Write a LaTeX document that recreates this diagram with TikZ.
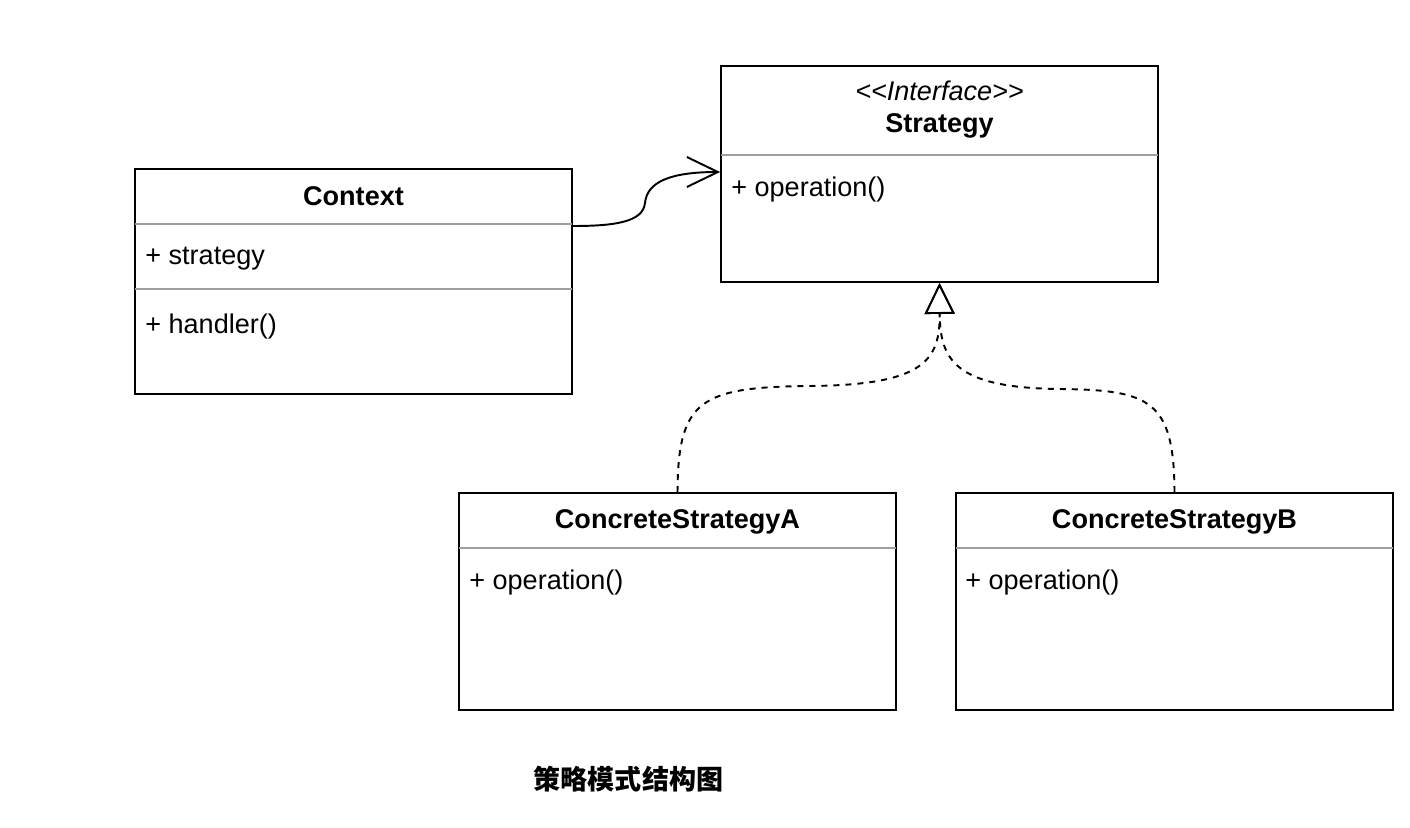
\documentclass[tikz,border=0pt]{standalone}
\usepackage{fontspec}
\setmainfont{Liberation Sans}
\newfontfamily\cjk{Noto Sans CJK SC}
\usetikzlibrary{arrows.meta}

\begin{document}
\begin{tikzpicture}[
    x=0.02cm, y=-0.02cm,
    font=\fontsize{15.4}{18}\selectfont,
    classbox/.style={draw=black, line width=1.1pt, minimum width=8.74cm, inner sep=0pt},
    sep/.style={draw=black!38, line width=1.1pt, shorten <=0.6pt, shorten >=0.6pt},
    title/.style={font=\fontsize{15.4}{18}\selectfont\bfseries},
    member/.style={anchor=west, inner sep=0pt},
    assoc/.style={-{Straight Barb[length=0.62cm, width=0.6cm]}, line width=1.1pt},
    realize/.style={-{Triangle[open, length=0.62cm, width=0.6cm, fill=white]}, dash pattern=on 0.12cm off 0.12cm, line width=1.1pt}
]
    \useasboundingbox (0,0) rectangle (1410,828);

    % Class boxes
    \node[classbox, minimum height=4.32cm] (strategy) at (939.5,174) {};
    \node[classbox, minimum height=4.5cm] (context) at (353.5,281.5) {};
    \node[classbox, minimum height=4.34cm] (csa) at (677.5,601.5) {};
    \node[classbox, minimum height=4.34cm] (csb) at (1174.5,601.5) {};

    % Separators
    \draw[sep] (strategy.west |- 0,155) -- (strategy.east |- 0,155);
    \draw[sep] (context.west |- 0,224) -- (context.east |- 0,224);
    \draw[sep] (context.west |- 0,289) -- (context.east |- 0,289);
    \draw[sep] (csa.west |- 0,548) -- (csa.east |- 0,548);
    \draw[sep] (csb.west |- 0,548) -- (csb.east |- 0,548);

    % Strategy texts
    \node (stereo) at (939.5,91) {\itshape <\kern0pt<Interface>\kern0pt>};
    \node[title] (strategyname) at (939.5,126) {Strategy};
    \node[member] (strategyop) at (731,190) {+ operation()};

    % Context texts
    \node[title] (contextname) at (353.5,196) {Context};
    \node[member] (contextattr) at (145,259) {+ strategy};
    \node[member] (contextop) at (145,326) {+ handler()};

    % Concrete strategy texts
    \node[title] (csaname) at (677.5,522) {ConcreteStrategyA};
    \node[member] (csaop) at (469,583) {+ operation()};
    \node[title] (csbname) at (1174.5,522) {ConcreteStrategyB};
    \node[member] (csbop) at (965,583) {+ operation()};

    % Association
    \draw[assoc] (context.east |- 0,226) .. controls (615,226) and (643,222) .. (645,203)
        .. controls (647,182) and (670,172) .. (strategy.west |- 0,172);

    % Realization
    \draw[realize] (csa.north) .. controls (678,400) and (700,387) .. (810,386)
        .. controls (925,385) and (940,360) .. (strategy.south);
    \draw[realize] (csb.north) .. controls (1174,400) and (1150,390) .. (1060,389)
        .. controls (955,388) and (940,360) .. (strategy.south);

    % Caption
    \node[font=\fontsize{15.4}{18}\selectfont\cjk\bfseries] (caption) at (628.5,779) {策略模式结构图};

\end{tikzpicture}
\end{document}
